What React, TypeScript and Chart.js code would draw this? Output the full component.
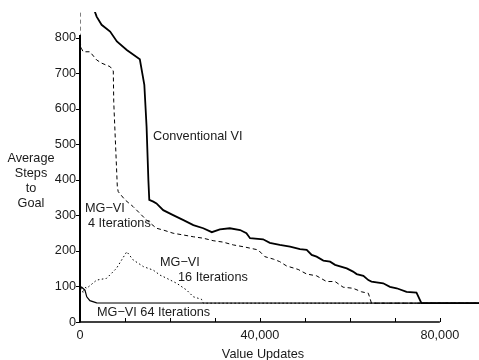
import React, { useEffect, useRef } from "react";
import { Chart, registerables } from "chart.js";
Chart.register(...registerables);

// ---- data ----
const convX = [2800, 3300, 3700, 4800, 6700, 8200, 10400, 13300, 14300, 14800, 15200, 15400, 16300, 17000, 18500, 20700, 23000, 25200, 27400, 29300, 31100, 33300, 35600, 37000, 37800, 40700, 42200, 44400, 46700, 48900, 50400, 51500, 52600, 54100, 55600, 56700, 59300, 60700, 61500, 63000, 64100, 64800, 67400, 68900, 70400, 72600, 74800, 75900, 88700];
const convY = [905, 874, 860, 837, 818, 790, 766, 740, 668, 550, 400, 344, 339, 334, 315, 301, 287, 273, 264, 253, 261, 264, 259, 250, 236, 233, 223, 217, 212, 205, 203, 189, 184, 173, 170, 161, 151, 142, 135, 130, 118, 114, 109, 99, 95, 85, 83, 53, 53];

const mg4X = [0, 0, 300, 700, 2200, 3700, 4800, 6700, 7400, 7500, 8300, 8500, 10000, 11800, 14800, 17000, 18500, 20700, 23000, 25200, 27400, 29600, 31800, 34100, 36300, 37800, 39600, 41100, 43000, 44400, 45900, 48500, 50400, 52600, 54800, 56700, 58500, 60700, 62600, 64100, 64800, 88700];
const mg4Y = [950, 790, 771, 761, 761, 738, 729, 719, 707, 620, 380, 367, 344, 325, 287, 264, 259, 250, 245, 240, 236, 229, 225, 217, 212, 208, 203, 184, 177, 170, 158, 148, 135, 130, 114, 114, 98, 95, 85, 81, 53, 53];

const mg16X = [0, 300, 700, 1100, 1500, 3700, 5900, 8100, 10400, 11800, 14100, 16300, 17800, 19300, 21500, 23700, 25200, 27000, 27400, 88700];
const mg16Y = [80, 100, 82, 98, 95, 118, 123, 151, 198, 175, 156, 146, 132, 123, 109, 90, 71, 64, 53, 53];

const mg64X = [0, 400, 1100, 1500, 2200, 3700, 88700];
const mg64Y = [100, 98, 90, 71, 60, 54, 53];

const xTickValues = [0, 10000, 20000, 30000, 40000, 50000, 60000, 70000, 80000];
const xTickLabels = [0, 40000, 80000];
const yTitleLines = ["Average", "Steps", "to", "Goal"];

const FONT = "'Liberation Sans', Arial, Helvetica, sans-serif";
const FS = 12.7;
const TXT = "#1a1a1a";

const pts = (xs: number[], ys: number[]) => xs.map((x, i) => ({ x, y: ys[i] }));
const fmt = (v: number) => String(Math.round(v)).replace(/\B(?=(\d{3})+(?!\d))/g, ",");

const axesPlugin = {
  id: "customAxes",
  afterDraw(chart: any) {
    const { ctx, scales } = chart;
    const xs = scales.x;
    const ys = scales.y;
    const x0 = xs.getPixelForValue(0);
    const y0 = ys.getPixelForValue(0);
    ctx.save();
    ctx.strokeStyle = "#000";
    ctx.lineWidth = 2;
    ctx.beginPath();
    ctx.moveTo(x0, y0 + 0.5);
    ctx.lineTo(x0, ys.getPixelForValue(808));
    ctx.stroke();
    ctx.lineWidth = 1.6;
    ctx.beginPath();
    ctx.moveTo(x0 - 1, y0);
    ctx.lineTo(xs.getPixelForValue(80000), y0);
    ctx.stroke();
    ctx.lineWidth = 1;
    ys.ticks.forEach((t: any) => {
      const py = Math.round(ys.getPixelForValue(t.value)) + 0.5;
      ctx.beginPath();
      ctx.moveTo(x0 - 4, py);
      ctx.lineTo(x0, py);
      ctx.stroke();
    });
    xs.ticks.forEach((t: any) => {
      if (t.value <= 0) return;
      const px = Math.round(xs.getPixelForValue(t.value)) + 0.5;
      ctx.beginPath();
      ctx.moveTo(px, y0);
      ctx.lineTo(px, y0 - 4);
      ctx.stroke();
    });
    ctx.fillStyle = TXT;
    ctx.font = `${FS}px ${FONT}`;
    ctx.textBaseline = "middle";
    ctx.textAlign = "center";
    yTitleLines.forEach((s, i) => ctx.fillText(s, 31, 158 + i * 15));
    ctx.fillText("Value Updates", 263, 354);
    ctx.textAlign = "left";
    ctx.fillText("Conventional VI", 153, 136);
    ctx.fillText("MG\u2212VI", 85, 208);
    ctx.fillText("4 Iterations", 88, 223);
    ctx.fillText("MG\u2212VI", 160, 262);
    ctx.fillText("16 Iterations", 178, 277);
    ctx.fillText("MG\u2212VI 64 Iterations", 97, 312);
    ctx.restore();
  },
};

export default function App() {
  const ref = useRef<HTMLCanvasElement | null>(null);
  useEffect(() => {
    if (!ref.current) return;
    const common = { pointRadius: 0, tension: 0, fill: false, borderColor: "#000" };
    const chart = new Chart(ref.current, {
      type: "line",
      data: {
        datasets: [
          { ...common, label: "Conventional VI", data: pts(convX, convY), borderWidth: 1.8 },
          { ...common, label: "MG-VI 4", data: pts(mg4X, mg4Y), borderWidth: 1, borderDash: [4, 3] },
          { ...common, label: "MG-VI 16", data: pts(mg16X, mg16Y), borderWidth: 1, borderDash: [1.5, 2.5] },
          { ...common, label: "MG-VI 64", data: pts(mg64X, mg64Y), borderWidth: 1.2 },
        ],
      },
      options: {
        animation: false,
        responsive: false,
        parsing: false as any,
        layout: { padding: { top: 12, left: 0, right: 0, bottom: 0 } },
        plugins: { legend: { display: false }, tooltip: { enabled: false } },
        scales: {
          x: {
            type: "linear",
            min: 0,
            max: 88700,
            grid: { display: false, drawTicks: false, tickLength: 0 },
            border: { display: false },
            afterBuildTicks: (s: any) => { s.ticks = xTickValues.map((v) => ({ value: v })); },
            afterFit: (s: any) => { s.height = 38; },
            ticks: {
              autoSkip: false,
              maxRotation: 0,
              minRotation: 0,
              padding: 6,
              color: TXT,
              font: { family: FONT, size: FS },
              callback: (v: any, i: number, ticks: any[]) => {
                const n = Number(ticks && ticks[i] ? ticks[i].value : v);
                return xTickLabels.includes(n) ? fmt(n) : "";
              },
            },
          },
          y: {
            type: "linear",
            min: 0,
            max: 873,
            grid: { display: false, drawTicks: false, tickLength: 0 },
            border: { display: false },
            afterFit: (s: any) => { s.width = 80; },
            ticks: {
              stepSize: 100,
              includeBounds: false,
              autoSkip: false,
              padding: 4,
              color: TXT,
              font: { family: FONT, size: FS },
            },
          },
        },
      },
      plugins: [axesPlugin],
    });
    return () => chart.destroy();
  }, []);
  return (
    <div style={{ position: "absolute", left: 0, top: 0, width: 479, height: 360, background: "#fff" }}>
      <canvas ref={ref} width={479} height={360} style={{ display: "block" }} />
    </div>
  );
}
